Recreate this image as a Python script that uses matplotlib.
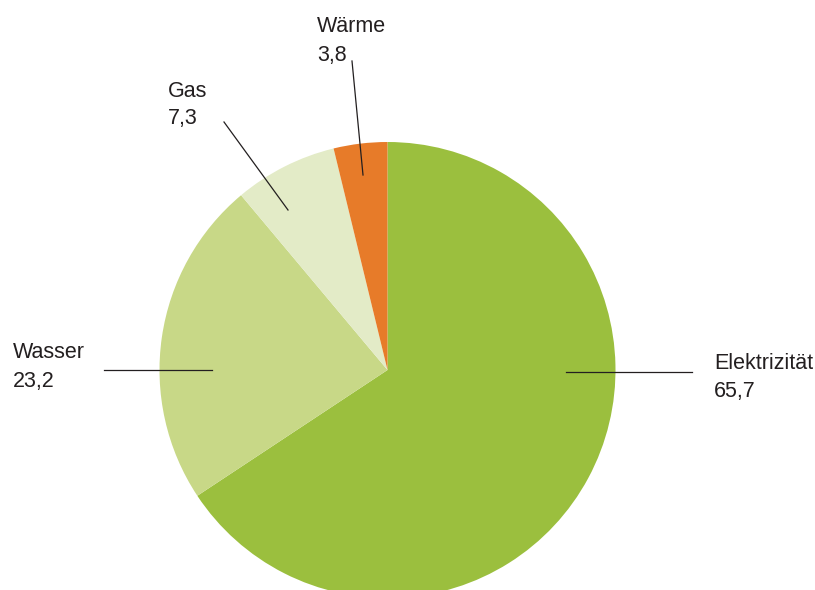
import matplotlib.pyplot as plt


categories = ["Elektrizität", "Wasser", "Gas", "Wärme"]
shares = [65.7, 23.2, 7.3, 3.8]
colors = ["#9bbf3e", "#c8d887", "#e3ebc7", "#e77b29"]

# layout in pixel coords (y measured from top), converted below
W, H = 815, 590
PIE_CENTER = (387.5, 370)
PIE_RADIUS = 228

# text left x, baseline of name, baseline of value, leader line start/end
label_layout = {
    "Elektrizität": dict(x=714, y1=369, y2=397, line=((566, 372), (692, 372))),
    "Wasser": dict(x=13, y1=358, y2=387, line=((104, 370), (212, 370))),
    "Gas": dict(x=168, y1=97, y2=124, line=((224, 122), (288, 210))),
    "Wärme": dict(x=317, y1=32, y2=61, line=((352, 61), (363, 175))),
}

TEXT_COLOR = "#231f20"


def fy(y):
    return H - y


def fmt_value(v):
    return f"{v:.1f}".replace(".", ",")


def make_chart(output_path):
    plt.rcParams["font.family"] = ["Liberation Sans", "DejaVu Sans"]

    fig = plt.figure(figsize=(W / 100, H / 100), dpi=100)
    ax = fig.add_axes([0, 0, 1, 1])

    ax.pie(
        shares,
        colors=colors,
        startangle=90,
        counterclock=False,
        center=(PIE_CENTER[0], fy(PIE_CENTER[1])),
        radius=PIE_RADIUS,
        wedgeprops={"linewidth": 0},
    )

    for name, value in zip(categories, shares):
        lay = label_layout[name]
        (x0, y0), (x1, y1) = lay["line"]
        ax.plot([x0, x1], [fy(y0), fy(y1)], color=TEXT_COLOR, lw=0.9)
        ax.text(lay["x"], fy(lay["y1"]), name, fontsize=15.5,
                color=TEXT_COLOR, va="baseline", ha="left")
        ax.text(lay["x"], fy(lay["y2"]), fmt_value(value), fontsize=15.5,
                color=TEXT_COLOR, va="baseline", ha="left")

    ax.set_xlim(0, W)
    ax.set_ylim(0, H)
    ax.set_aspect("equal")
    ax.axis("off")

    fig.savefig(output_path, dpi=100)
    plt.close(fig)


if __name__ == "__main__":
    make_chart("out.png")
